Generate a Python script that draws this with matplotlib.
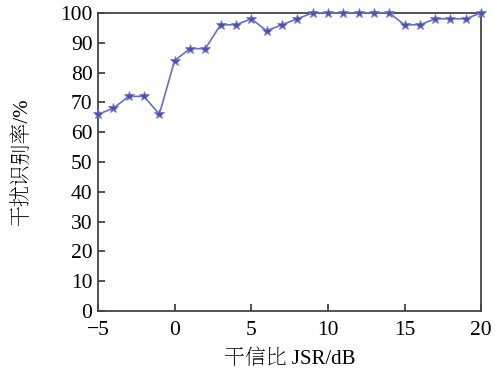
import matplotlib
matplotlib.use("Agg")
import matplotlib.pyplot as plt
from matplotlib import font_manager as fm

jsr = list(range(-5, 21))
rate = [66, 68, 72, 72, 66, 84, 88, 88, 96, 96, 98, 94, 96, 98, 100, 100,
        100, 100, 100, 100, 96, 96, 98, 98, 98, 100]
xticks = [-5, 0, 5, 10, 15, 20]
yticks = list(range(0, 101, 10))

names = set(f.name for f in fm.fontManager.ttflist)
cjk = [n for n in ['Noto Serif CJK SC', 'Noto Serif SC', 'Source Han Serif SC', 'Noto Sans CJK SC'] if n in names]
fam = ['Liberation Serif'] + cjk

plt.rcParams['font.family'] = fam

fig = plt.figure(figsize=(4.95, 3.78), dpi=100)
ax = fig.add_axes([0.198, 0.177, 0.774, 0.789])
ax.plot(jsr, rate, color='#6a6ec2', lw=1.2, marker='*', markersize=7,
        markerfacecolor='#4b50a8', markeredgecolor='#7a7ed0', markeredgewidth=0.6,
        clip_on=False, zorder=3)
ax.set_xlim(-5, 20)
ax.set_ylim(0, 100)
ax.set_xticks(xticks)
ax.set_xticklabels(['\u22125' if t < 0 else str(t) for t in xticks])
ax.set_yticks(yticks)
ax.tick_params(direction='in', length=5, width=1.2, labelsize=15.5, top=False, right=False, color='#333333')
ax.tick_params(axis='x', pad=7)
ax.tick_params(axis='y', pad=4)
for s in ax.spines.values():
    s.set_linewidth(1.3)
    s.set_color('#444444')
ax.set_xlabel('干信比 JSR/dB', fontsize=15, family=fam, labelpad=7)
ax.set_ylabel('干扰识别率/%', fontsize=15, family=fam, labelpad=20)
fig.savefig('out.png', dpi=100)
